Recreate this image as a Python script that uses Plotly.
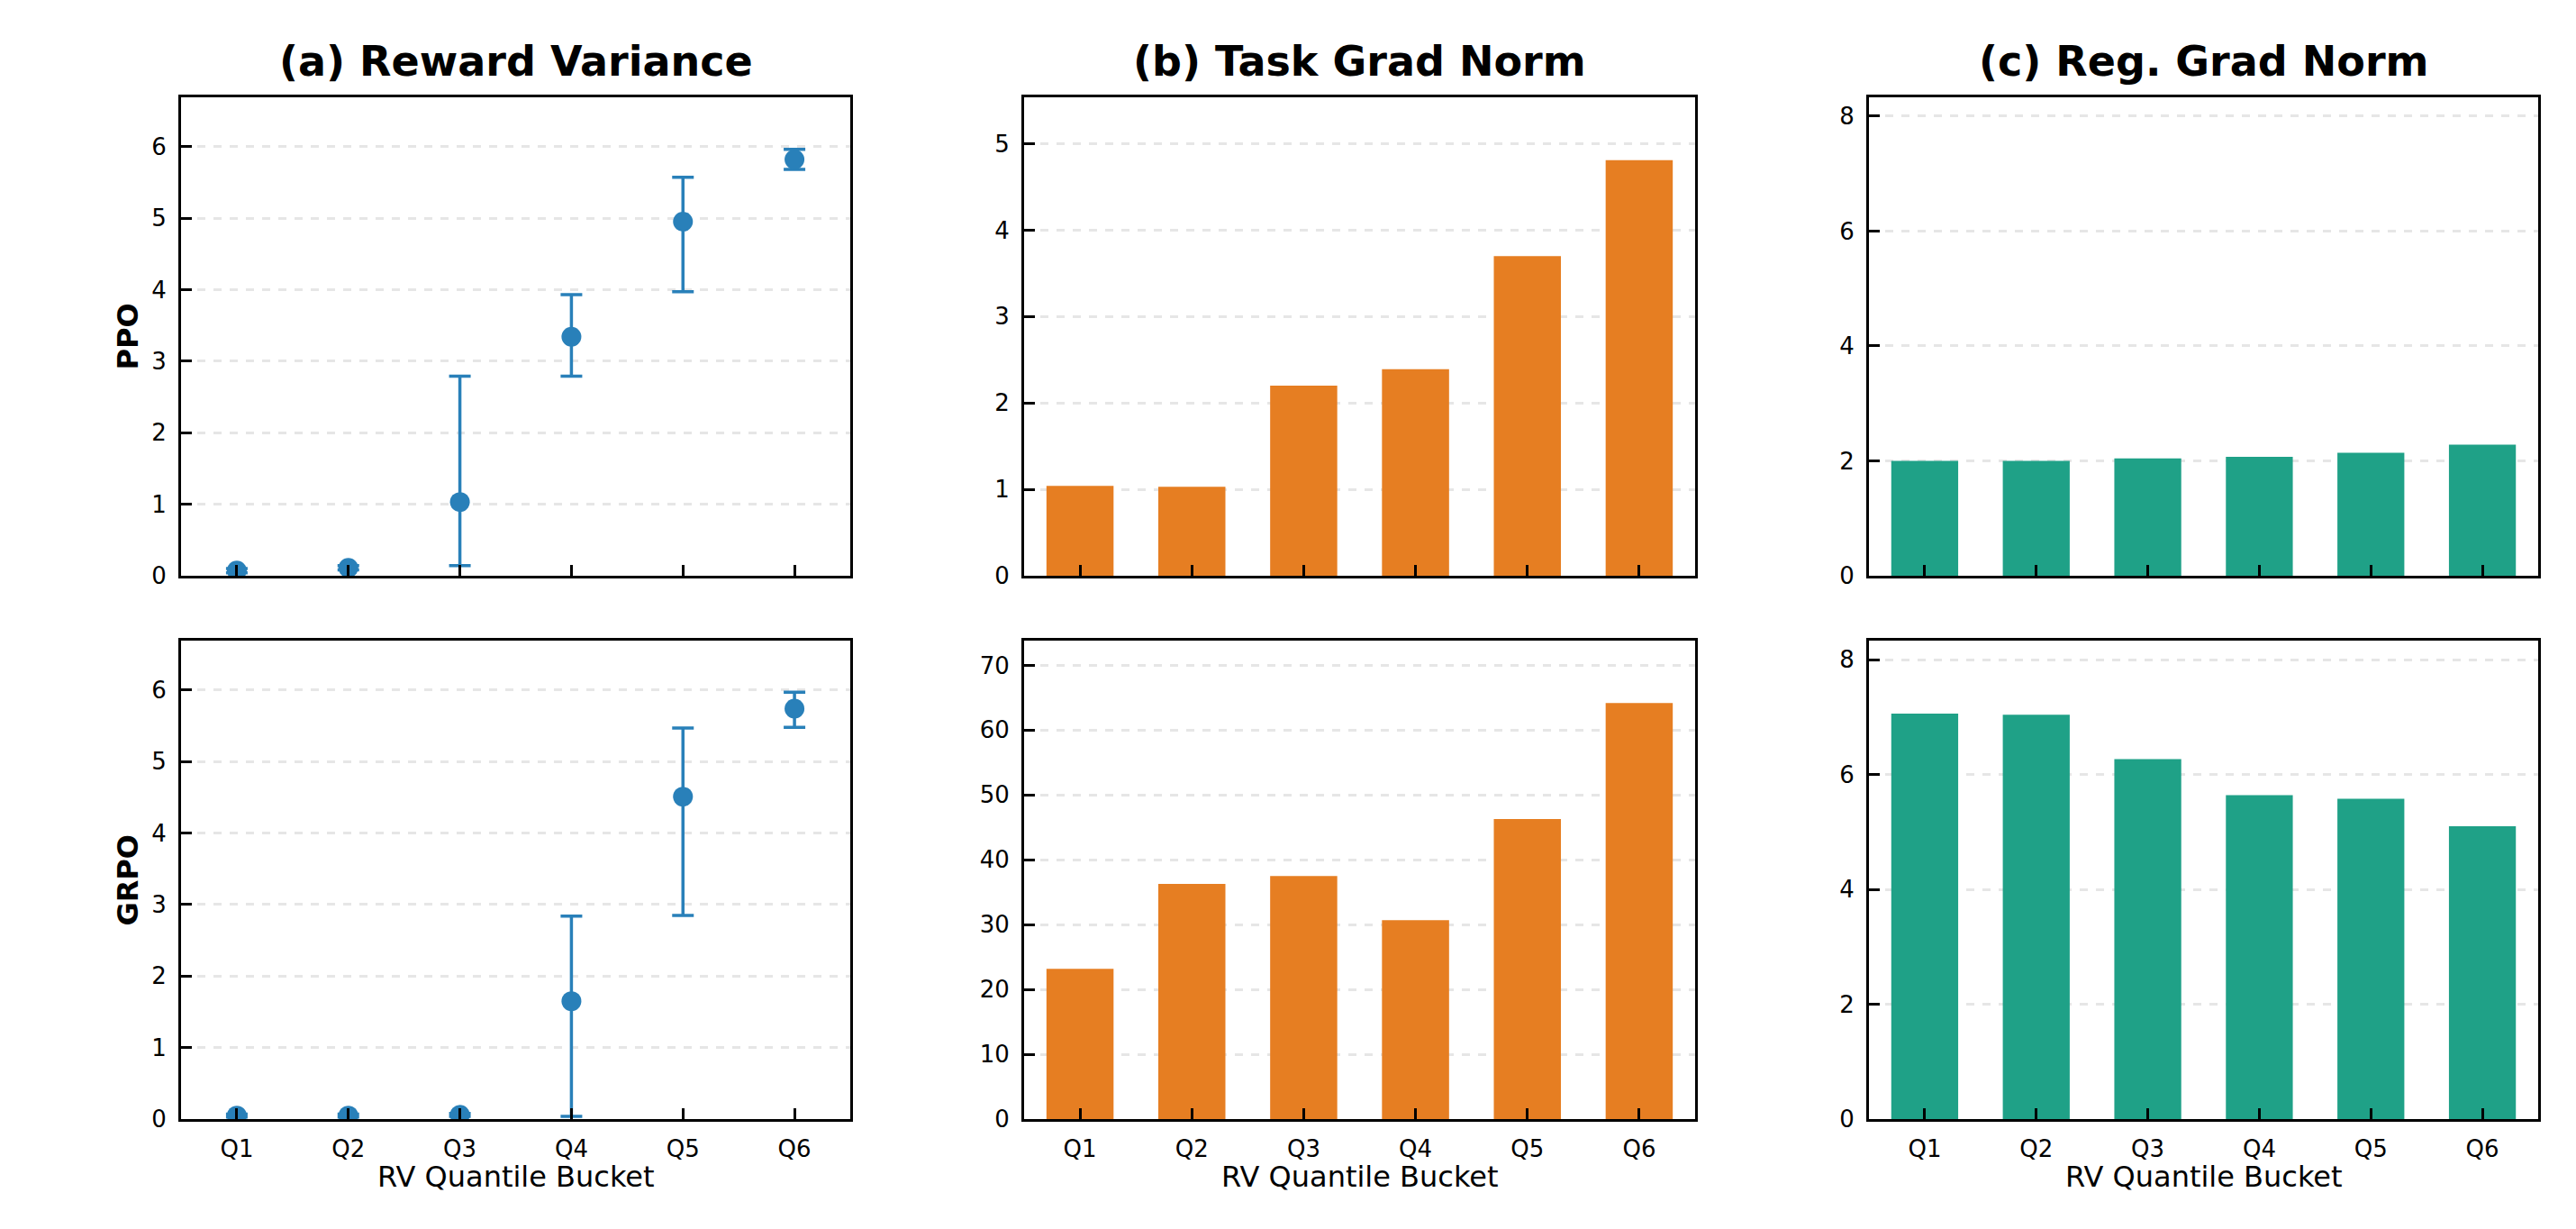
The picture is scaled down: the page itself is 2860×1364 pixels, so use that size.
import plotly.graph_objects as go
from plotly.subplots import make_subplots

buckets = ["Q1", "Q2", "Q3", "Q4", "Q5", "Q6"]

# (a) reward variance: mean with asymmetric error bars
ppo_rv = [0.07, 0.11, 1.03, 3.34, 4.95, 5.82]
ppo_rv_hi = [0.10, 0.14, 2.79, 3.93, 5.57, 5.96]
ppo_rv_lo = [0.04, 0.08, 0.14, 2.79, 3.97, 5.68]
grpo_rv = [0.05, 0.05, 0.06, 1.65, 4.51, 5.74]
grpo_rv_hi = [0.07, 0.07, 0.08, 2.84, 5.47, 5.97]
grpo_rv_lo = [0.03, 0.03, 0.04, 0.04, 2.85, 5.48]

# (b) task grad norm
ppo_task = [1.04, 1.03, 2.20, 2.39, 3.70, 4.81]
grpo_task = [23.2, 36.3, 37.5, 30.7, 46.3, 64.2]

# (c) regularizer grad norm
ppo_reg = [2.00, 2.00, 2.04, 2.07, 2.14, 2.28]
grpo_reg = [7.06, 7.04, 6.27, 5.64, 5.58, 5.10]

titles = ["(a) Reward Variance", "(b) Task Grad Norm", "(c) Reg. Grad Norm"]
row_labels = ["PPO", "GRPO"]
xlabel = "RV Quantile Bucket"

BLUE = "#2980b9"
ORANGE = "#e67e22"
GREEN = "#1fa187"
FONT = "DejaVu Sans"

# the page body keeps its default 8px margin, so the figure is 16px smaller
# than the window and every pixel position is shifted by 8
PAD = 8
W, H = 2860 - 2 * PAD, 1364 - 2 * PAD
col_px = [(201, 944), (1137, 1882), (2075, 2818)]
row_px = [(109, 646), (719, 1256)]


def px_x(v):
    return (v - PAD) / W


def px_y(v):
    return 1 - (v - PAD) / H


fig = make_subplots(rows=2, cols=3)

for r, (mean, hi, lo) in enumerate([(ppo_rv, ppo_rv_hi, ppo_rv_lo),
                                    (grpo_rv, grpo_rv_hi, grpo_rv_lo)], start=1):
    fig.add_trace(go.Scatter(
        x=buckets, y=mean, mode="markers",
        marker=dict(color=BLUE, size=22),
        error_y=dict(type="data", symmetric=False,
                     array=[h - m for h, m in zip(hi, mean)],
                     arrayminus=[m - l for m, l in zip(mean, lo)],
                     color=BLUE, thickness=3.5, width=12),
        showlegend=False), row=r, col=1)

for r, vals in enumerate([ppo_task, grpo_task], start=1):
    fig.add_trace(go.Bar(x=buckets, y=vals, marker_color=ORANGE, width=0.6,
                         marker_line_width=0, showlegend=False), row=r, col=2)

for r, vals in enumerate([ppo_reg, grpo_reg], start=1):
    fig.add_trace(go.Bar(x=buckets, y=vals, marker_color=GREEN, width=0.6,
                         marker_line_width=0, showlegend=False), row=r, col=3)

y_ranges = {(1, 1): 6.69, (2, 1): 6.69, (1, 2): 5.54, (2, 2): 73.8,
            (1, 3): 8.33, (2, 3): 8.33}
y_dticks = {(1, 1): 1, (2, 1): 1, (1, 2): 1, (2, 2): 10, (1, 3): 2, (2, 3): 2}

for r in (1, 2):
    for c in (1, 2, 3):
        x0, x1 = col_px[c - 1]
        t0, t1 = row_px[r - 1]
        fig.update_xaxes(
            domain=[px_x(x0), px_x(x1)], range=[-0.5, 5.5],
            showline=True, linecolor="black", linewidth=3, mirror=True,
            ticks="inside", ticklen=12, tickwidth=2.7, tickcolor="black",
            showticklabels=(r == 2), ticklabelstandoff=8,
            tickfont=dict(family=FONT, size=26, color="black"),
            showgrid=False, zeroline=False, row=r, col=c)
        fig.update_yaxes(
            domain=[px_y(t1), px_y(t0)], range=[0, y_ranges[(r, c)]],
            dtick=y_dticks[(r, c)], tick0=0,
            showline=True, linecolor="black", linewidth=3, mirror=True,
            ticks="inside", ticklen=12, tickwidth=2.7, tickcolor="black",
            ticklabelstandoff=8,
            tickfont=dict(family=FONT, size=26, color="black"),
            showgrid=True, gridcolor="#e6e6e6", gridwidth=2.5, griddash="dash",
            zeroline=False, row=r, col=c)

annotations = []
for c, title in enumerate(titles):
    x0, x1 = col_px[c]
    annotations.append(dict(
        text="<b>" + title + "</b>", x=px_x((x0 + x1) / 2), y=px_y(69),
        xref="paper", yref="paper", xanchor="center", yanchor="middle",
        showarrow=False, font=dict(family=FONT, size=46, color="black")))
    annotations.append(dict(
        text=xlabel, x=px_x((x0 + x1) / 2), y=px_y(1321),
        xref="paper", yref="paper", xanchor="center", yanchor="middle",
        showarrow=False, font=dict(family=FONT, size=32, color="black")))

for r, label in enumerate(row_labels):
    t0, t1 = row_px[r]
    annotations.append(dict(
        text="<b>" + label + "</b>", x=px_x(142), y=px_y((t0 + t1) / 2),
        xref="paper", yref="paper", xanchor="center", yanchor="middle",
        textangle=-90, showarrow=False,
        font=dict(family=FONT, size=32, color="black")))

fig.update_layout(
    width=W, height=H,
    margin=dict(l=0, r=0, t=0, b=0),
    paper_bgcolor="white", plot_bgcolor="white",
    font=dict(family=FONT, color="black"),
    annotations=annotations,
)

fig.write_html("out.html", config={"displayModeBar": False})
